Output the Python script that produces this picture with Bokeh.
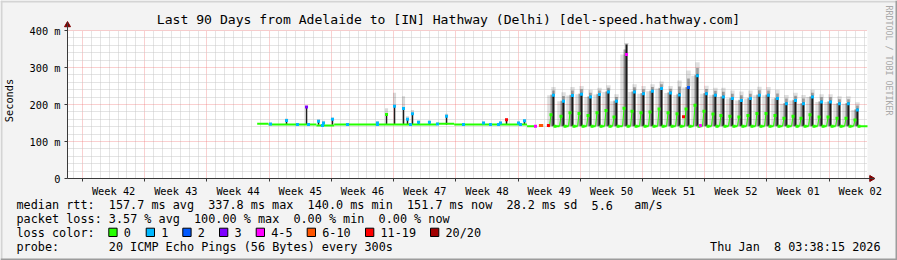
import math
import re
from bokeh.plotting import figure
from bokeh.models import FixedTicker, Range1d, BoxAnnotation
from bokeh.core.properties import value
from bokeh.embed import file_html
from bokeh.resources import INLINE

MONO = "DejaVu Sans Mono"

# ---------------- data (x = days since graph start, y = milliseconds) ----------------
loss_colors = ['#26ff00', '#00b8ff', '#0059ff', '#7e00ff', '#ff00ff', '#ff5500', '#ff0000', '#a10000']
loss_labels = ['0', '1', '2', '3', '4-5', '6-10', '11-19', '20/20']

week_bounds = [1.69, 8.69, 15.69, 22.69, 29.69, 36.69, 43.69, 50.69, 57.69, 64.69, 71.69, 78.69, 85.69]
week_labels = ['Week 42', 'Week 43', 'Week 44', 'Week 45', 'Week 46', 'Week 47', 'Week 48',
               'Week 49', 'Week 50', 'Week 51', 'Week 52', 'Week 01', 'Week 02']
y_ticks = [0, 100, 200, 300, 400]
y_tick_labels = ['0', '100 m', '200 m', '300 m', '400 m']

# flat period: median baseline segments
base_start = [21.34, 22.60, 28.00, 30.00, 41.50, 43.50, 51.70]
base_end = [22.60, 28.00, 30.00, 41.50, 43.50, 51.70, 52.65]
base_ms = [148, 146, 143, 146, 148, 146, 141]

# flat period: short spikes
fs_day = [24.64, 26.89, 28.24, 28.80, 29.81, 34.87, 35.89, 36.79, 37.80, 38.25, 38.81, 39.49,
          40.72, 42.64, 46.80, 48.71, 49.39, 50.74, 51.41]
fs_top = [157, 193, 155, 150, 160, 150, 173, 195, 189, 160, 175, 152, 152, 168, 150, 150, 159, 150, 156]
fs_smoke = [162, 196, 160, 156, 165, 155, 190, 232, 222, 168, 185, 157, 156, 175, 154, 154, 163, 154, 160]
fs_loss = [1, 3, 1, 1, 1, 1, 0, 1, 1, 1, 1, 1, 1, 1, 1, 1, 6, 1, 1]

# flat period: single-loss median points on the baseline
blue_day = [22.84, 25.87, 27.11, 28.69, 31.50, 34.87, 38.59, 41.62, 44.55, 47.59, 48.49, 50.96]
blue_ms = [147, 146, 146, 143, 146, 146, 146, 147, 146, 146, 146, 146]

# daily peaks period
pk_base = 141
pk_day = [54.67, 55.80, 56.81, 57.83, 58.84, 59.85, 60.86, 61.76, 62.89, 63.79, 64.80, 65.81,
          66.83, 67.84, 68.85, 69.86, 70.87, 71.88, 72.89, 73.79, 74.80, 75.81, 76.83, 77.84,
          78.86, 79.87, 80.88, 81.90, 82.80, 83.81, 84.83, 85.84, 86.85, 87.86, 88.87]
pk_top = [229, 213, 229, 232, 224, 231, 238, 213, 362, 238, 233, 240, 247, 235, 232, 249, 283, 233,
          229, 224, 220, 215, 220, 229, 229, 220, 206, 215, 206, 224, 211, 211, 206, 206, 189]
pk_smoke = [247, 233, 247, 250, 240, 245, 252, 228, 366, 255, 250, 255, 262, 250, 265, 292, 314, 251,
            245, 245, 238, 235, 238, 248, 247, 240, 226, 232, 226, 240, 228, 228, 222, 222, 206]
pk_high = [225, 209, 224, 228, 220, 227, 234, 209, 335, 234, 229, 236, 243, 231, 226, 246, 278, 229,
           225, 220, 216, 211, 216, 225, 225, 216, 202, 211, 202, 220, 207, 207, 202, 202, 185]
pk_mid = [172, 168, 178, 176, 170, 178, 184, 166, 190, 182, 178, 180, 188, 178, 175, 188, 198, 182,
          174, 170, 168, 166, 170, 176, 176, 170, 163, 168, 163, 172, 166, 166, 163, 163, 158]
pk_loss = [1, 1, 1, 1, 1, 1, 1, 1, 4, 1, 1, 1, 1, 1, 1, 2, 1, 1,
           1, 1, 1, 1, 1, 1, 1, 1, 1, 1, 1, 1, 1, 1, 1, 1, 1]

# isolated loss points
dot_day = [52.65, 53.20, 53.35, 54.10, 69.30, 71.20]
dot_ms = [141, 143, 143, 143, 167, 143]
dot_loss = [4, 5, 5, 6, 6, 4]

stats_rtt = "median rtt:  157.7 ms avg  337.8 ms max  140.0 ms min  151.7 ms now  28.2 ms sd  5.6   am/s"
stats_loss = "packet loss: 3.57 % avg  100.00 % max  0.00 % min  0.00 % now"
loss_head = "loss color:"
probe_text = "probe:       20 ICMP Echo Pings (56 Bytes) every 300s"
stamp_text = "Thu Jan  8 03:38:15 2026"
title_text = "Last 90 Days from Adelaide to [IN] Hathway (Delhi) [del-speed.hathway.com]"
watermark = "RRDTOOL / TOBI OETIKER"

# ---------------- geometry: the frame covers the whole canvas ----------------
W, H = 897, 260
GL, GR, GT, GB = 67, 867, 30, 178           # graph area in canvas pixels
DAYS, MS = 90.0, 400.0
PX_DAY = (GR - GL) / DAYS
PX_MS = (GB - GT) / MS


def X(px):
    return (px - GL) / PX_DAY


def Y(py):
    return (GB - py) / PX_MS


p = figure(width=W, height=H, output_backend="svg", toolbar_location=None,
           x_range=Range1d(X(0), X(W)), y_range=Range1d(Y(H), Y(0)),
           min_border=0, min_border_left=0, min_border_right=0, min_border_top=0, min_border_bottom=0,
           background_fill_color="#f3f3f3", border_fill_color="#f3f3f3", outline_line_color=None)

# white canvas of the graph area
p.add_layout(BoxAnnotation(left=0, right=DAYS, bottom=0, top=MS, fill_color="white", fill_alpha=1,
                           line_color=None, level="image"))

AX = "#3a3a3a"
midweeks = [b + 3.5 for b in week_bounds]
xa = p.xaxis[0]
xa.fixed_location = 0
xa.bounds = (0, X(874))
xa.ticker = FixedTicker(ticks=midweeks, minor_ticks=week_bounds)
xa.major_label_overrides = {m: l for m, l in zip(midweeks, week_labels)}
xa.major_tick_line_color = None
xa.major_tick_out = 0
xa.major_tick_in = 0
xa.minor_tick_out = 3
xa.minor_tick_in = 0
xa.minor_tick_line_color = AX
xa.axis_line_color = AX
xa.major_label_standoff = 3
xa.major_label_text_font = MONO
xa.major_label_text_font_size = "10.3px"
xa.major_label_text_color = "black"

ya = p.yaxis[0]
ya.fixed_location = 0
ya.bounds = (0, Y(22))
ya.ticker = FixedTicker(ticks=y_ticks, minor_ticks=[])
ya.major_label_overrides = {t: l for t, l in zip(y_ticks, y_tick_labels)}
ya.major_tick_out = 3
ya.major_tick_in = 0
ya.major_tick_line_color = AX
ya.axis_line_color = AX
ya.major_label_standoff = 4
ya.major_label_text_font = MONO
ya.major_label_text_font_size = "10.3px"
ya.major_label_text_color = "black"
ya.axis_label = "Seconds"
ya.axis_label_text_font = MONO
ya.axis_label_text_font_size = "10.3px"
ya.axis_label_text_font_style = "normal"
ya.axis_label_text_color = "black"
ya.axis_label_standoff = 12

day_bounds = [0.69 + i for i in range(90) if abs(((0.69 + i) - 1.69) % 7) > 0.01]
p.xgrid.ticker = FixedTicker(ticks=week_bounds, minor_ticks=day_bounds)
p.ygrid.ticker = FixedTicker(ticks=y_ticks[1:], minor_ticks=[v for v in range(20, 400, 20) if v % 100])
for g in (p.xgrid, p.ygrid):
    g.grid_line_color = "#f07070"
    g.grid_line_alpha = 0.65
    g.grid_line_dash = "1 1"
    g.minor_grid_line_color = "#c8c8c8"
    g.minor_grid_line_dash = "1 1"
p.xgrid.cross_bounds = (0, MS)
p.ygrid.cross_bounds = (0, DAYS)

# ---- smoke ----
p.vbar(x=fs_day, width=0.35, bottom=fs_top, top=fs_smoke, fill_color="black", fill_alpha=0.15, line_color=None)
p.vbar(x=fs_day, width=0.17, bottom=145, top=fs_top, fill_color="#1e1e1e", line_color=None)

p.vbar(x=[d - 0.4 for d in pk_day], width=0.6, bottom=pk_base, top=pk_high,
       fill_color="black", fill_alpha=0.13, line_color=None)
p.vbar(x=[d - 0.2 for d in pk_day], width=0.28, bottom=pk_base,
       top=[(h + t) / 2 for h, t in zip(pk_high, pk_top)],
       fill_color="black", fill_alpha=0.33, line_color=None)
p.vbar(x=pk_day, width=0.5, bottom=pk_top, top=pk_smoke, fill_color="black", fill_alpha=0.12, line_color=None)
p.vbar(x=pk_day, width=0.3, bottom=pk_top, top=[(t + s) / 2 for t, s in zip(pk_top, pk_smoke)],
       fill_color="black", fill_alpha=0.3, line_color=None)
p.vbar(x=pk_day, width=0.24, bottom=pk_base, top=pk_top, fill_color="#1a1a1a", line_color=None)

# ---- median line ----
x0, y0, x1, y1 = [], [], [], []
for s, e, v in zip(base_start, base_end, base_ms):
    x0.append(s); y0.append(v); x1.append(e); y1.append(v)
prev_end = dot_day[3]
for d in pk_day:
    x0.append(prev_end); y0.append(pk_base); x1.append(d - 0.45); y1.append(pk_base)
    prev_end = d + 0.12
x0.append(prev_end); y0.append(pk_base); x1.append(DAYS); y1.append(pk_base)
p.segment(x0=x0, y0=y0, x1=x1, y1=y1, line_color=loss_colors[0], line_width=2)

rx0 = [d - 0.45 for d in pk_day]
rx1 = [d - 0.28 for d in pk_day]
p.segment(x0=rx0, y0=[pk_base] * len(pk_day), x1=rx1, y1=pk_mid, line_color=loss_colors[0], line_width=1)

p.scatter(x=rx1, y=pk_mid, marker="square", size=3, fill_color=loss_colors[0], line_color=None)
p.scatter(x=[d + 0.17 for d in pk_day], y=[pk_base] * len(pk_day), marker="square", size=3,
          fill_color=loss_colors[0], line_color=None)
p.scatter(x=pk_day, y=pk_high, marker="square", size=3,
          fill_color=[loss_colors[i] for i in pk_loss], line_color=None)
p.scatter(x=fs_day, y=fs_top, marker="square", size=3,
          fill_color=[loss_colors[i] for i in fs_loss], line_color=None)
p.scatter(x=blue_day, y=blue_ms, marker="square", size=3, fill_color=loss_colors[1], line_color=None)
p.scatter(x=dot_day, y=dot_ms, marker="square", size=3,
          fill_color=[loss_colors[i] for i in dot_loss], line_color=None)

# axis arrow heads
p.scatter(x=[0], y=[Y(24.5)], marker="triangle", size=6, fill_color="#7f0000", line_color="#7f0000")
p.scatter(x=[X(871)], y=[0], marker="triangle", size=6, angle=-math.pi / 2,
          fill_color="#7f0000", line_color="#7f0000")

# ---------------- title, watermark, legend ----------------
p.text(x=[X(448)], y=[Y(19)], text=[title_text], text_font=value(MONO), text_font_size=value("13.1px"),
       text_align="center", text_baseline="middle", text_color="black")
p.text(x=[X(888)], y=[Y(60)], text=[watermark], text_font=value(MONO), text_font_size=value("8.3px"),
       text_align="center", text_baseline="middle", angle=-math.pi / 2, text_color="#a8a8a8")

CH = 7.1     # character cell of the legend font
rows_py = [204.5, 218.5, 232, 246]
tx, ty, tt = [], [], []
for line, py in zip([stats_rtt, stats_loss, loss_head, probe_text], rows_py):
    for m in re.finditer(r"\S+(?: \S+)*", line):
        tx.append(X(16 + m.start() * CH)); ty.append(Y(py)); tt.append(m.group())
p.text(x=tx, y=ty, text=tt, text_font=value(MONO), text_font_size=value("11.8px"),
       text_baseline="middle", text_color="black")
stamp_start = 880 - len(stamp_text) * CH
sx, st = [], []
for m in re.finditer(r"\S+(?: \S+)*", stamp_text):
    sx.append(X(stamp_start + m.start() * CH)); st.append(m.group())
p.text(x=sx, y=[Y(rows_py[3])] * len(sx), text=st, text_font=value(MONO),
       text_font_size=value("11.8px"), text_baseline="middle", text_color="black")

sq_left = [108.3, 145.7, 182.3, 219.0, 255.7, 306.7, 365.0, 430.0]
p.quad(left=[X(s) for s in sq_left], right=[X(s + 8.3) for s in sq_left],
       top=[Y(227.7)] * 8, bottom=[Y(236)] * 8,
       fill_color=loss_colors, line_color="black", line_width=1)
p.text(x=[X(s + 15) for s in sq_left], y=[Y(rows_py[2])] * 8, text=loss_labels, text_font=value(MONO),
       text_font_size=value("11.8px"), text_baseline="middle", text_color="black")

# 3D frame edges of the canvas
p.quad(left=[X(0), X(0), X(0), X(W - 2)], right=[X(W), X(2), X(W), X(W)],
       top=[Y(0), Y(0), Y(H - 2), Y(0)], bottom=[Y(2), Y(H), Y(H), Y(H)],
       fill_color=["#d4d4d4", "#d4d4d4", "#9c9c9c", "#9c9c9c"], line_color=None)

open("out.html", "w").write(file_html(p, INLINE))
